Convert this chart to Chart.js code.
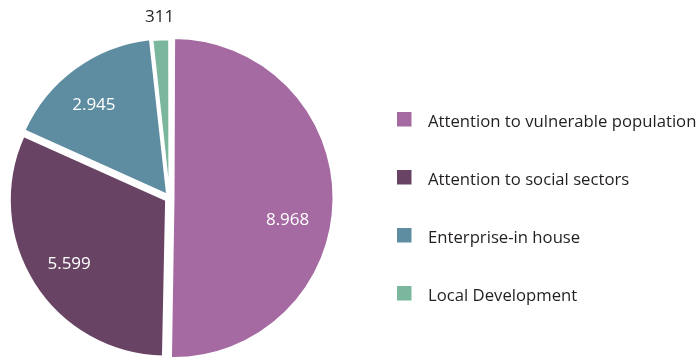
<!DOCTYPE html>
<html>
<head>
<meta charset="utf-8">
<title>Pie</title>
<style>
  body { margin: 0; background: #fff; }
</style>
</head>
<body>
<canvas id="pie" width="700" height="360"></canvas>

<script src="https://cdn.jsdelivr.net/npm/chart.js"></script>
<script>
  const categories = [
    'Attention to vulnerable population',
    'Attention to social sectors',
    'Enterprise-in house',
    'Local Development'
  ];
  const values = [8968, 5599, 2945, 311];
  const colors = ['#a56aa2', '#694363', '#5e8da2', '#7ab79d'];
  // small turns (degrees) of the value labels away from the slice middle
  const labelTurn = [10, -1, -3, 0];

  const FONT = '"Open Sans", "Noto Sans", sans-serif';

  function fmt(v) {
    return String(v).replace(/\B(?=(\d{3})+(?!\d))/g, '.');
  }

  // value labels on / next to the slices
  const valueLabels = {
    id: 'valueLabels',
    afterDatasetsDraw(chart) {
      const ctx = chart.ctx;
      const meta = chart.getDatasetMeta(0);
      const total = values.reduce((a, b) => a + b, 0);
      ctx.save();
      ctx.font = '17px ' + FONT;
      ctx.textAlign = 'center';
      ctx.textBaseline = 'middle';
      meta.data.forEach((arc, i) => {
        const p = arc.getProps(['x', 'y', 'startAngle', 'endAngle', 'outerRadius'], true);
        const mid = (p.startAngle + p.endAngle) / 2 + labelTurn[i] * Math.PI / 180;
        const small = values[i] / total < 0.05;
        const r = small ? p.outerRadius + 25 : p.outerRadius * 0.77;
        ctx.fillStyle = small ? '#231f20' : '#fff';
        ctx.fillText(fmt(values[i]), p.x + Math.cos(mid) * r, p.y + Math.sin(mid) * r);
      });
      ctx.restore();
    }
  };

  // legend on the right, square boxes and wide spacing
  const sideLegend = {
    id: 'sideLegend',
    afterDraw(chart) {
      const ctx = chart.ctx;
      const x = 397, top = 112, step = 58, box = 14.5;
      ctx.save();
      ctx.font = '16.7px ' + FONT;
      ctx.textBaseline = 'alphabetic';
      chart.data.labels.forEach((label, i) => {
        const y = top + i * step;
        ctx.fillStyle = chart.data.datasets[0].backgroundColor[i];
        ctx.fillRect(x, y, box, box);
        ctx.fillStyle = '#231f20';
        ctx.fillText(label, x + 31, y + box);
      });
      ctx.restore();
    }
  };

  new Chart(document.getElementById('pie'), {
    type: 'pie',
    data: {
      labels: categories,
      datasets: [{
        data: values,
        backgroundColor: colors,
        borderColor: '#fff',
        borderWidth: 2,
        offset: [16, 16, 16, 6],
        radius: 156
      }]
    },
    options: {
      responsive: false,
      animation: false,
      layout: { padding: { left: 0, right: 361, top: 37, bottom: 1 } },
      plugins: {
        legend: { display: false },
        tooltip: { enabled: false }
      }
    },
    plugins: [valueLabels, sideLegend]
  });
</script>
</body>
</html>
